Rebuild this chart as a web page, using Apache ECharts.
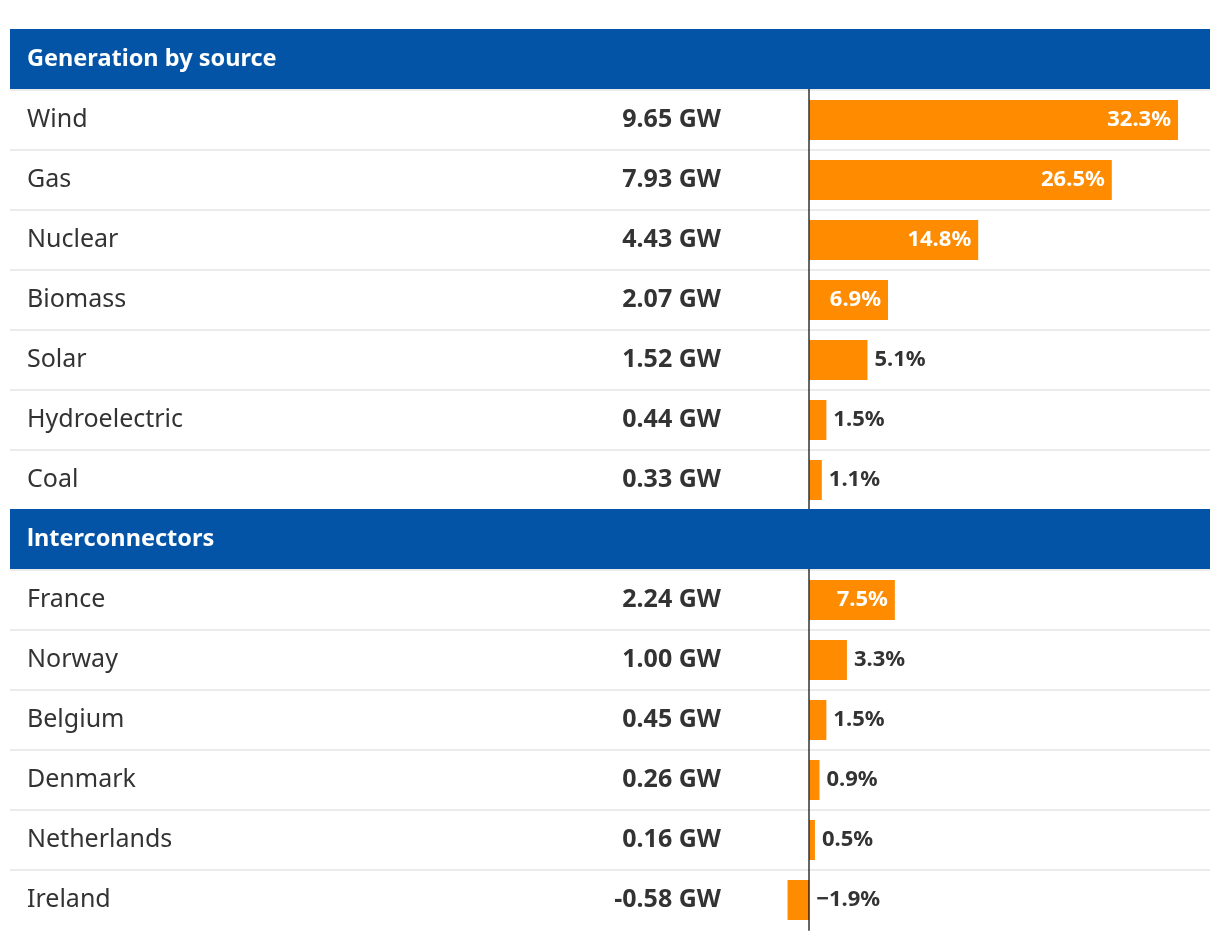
<!DOCTYPE html>
<html>
<head>
<meta charset="utf-8">
<script src="https://cdn.jsdelivr.net/npm/echarts@6/dist/echarts.min.js"></script>
<style>
  html, body { margin: 0; padding: 0; background: #fff; }
  #chart { width: 1220px; height: 938px; }
</style>
</head>
<body>
<div id="chart"></div>
<script>
// Row labels (null value = section header row)
const categories = [
  'Generation by source',
  'Wind', 'Gas', 'Nuclear', 'Biomass', 'Solar', 'Hydroelectric', 'Coal',
  'lnterconnectors',
  'France', 'Norway', 'Belgium', 'Denmark', 'Netherlands', 'Ireland'
];
const headerRows = ['Generation by source', 'lnterconnectors'];
// Output in GW
const gigawatts = [
  null, 9.65, 7.93, 4.43, 2.07, 1.52, 0.44, 0.33,
  null, 2.24, 1.00, 0.45, 0.26, 0.16, -0.58
];
// Share of total (%)
const shares = [
  null, 32.3, 26.5, 14.8, 6.9, 5.1, 1.5, 1.1,
  null, 7.5, 3.3, 1.5, 0.9, 0.5, -1.9
];

const FONT = '"Noto Sans", "Open Sans", sans-serif';
const INSIDE_MIN = 6;

const gwLabels = gigawatts.map(v => v === null ? '' : v.toFixed(2) + ' GW');

const barData = shares.map(v => {
  if (v === null) return '-';
  const inside = v >= INSIDE_MIN;
  return {
    value: v,
    label: {
      position: inside ? 'insideRight' : 'right',
      color: inside ? '#ffffff' : '#333333'
    }
  };
});

const headerData = categories
  .map((c, i) => headerRows.includes(c) ? [0, i] : null)
  .filter(d => d !== null);
const rowData = categories.map((c, i) => [0, i]);

const chart = echarts.init(document.getElementById('chart'), null, { renderer: 'canvas' });

chart.setOption({
  animation: false,
  backgroundColor: '#ffffff',
  grid: { left: 10, right: 10, top: 30, height: 900 },
  xAxis: {
    type: 'value',
    min: -70,
    max: 35.1,
    show: false
  },
  yAxis: [
    {
      type: 'category',
      data: categories,
      inverse: true,
      position: 'left',
      axisLine: { show: false, onZero: false },
      axisTick: { show: false },
      splitLine: { show: false },
      axisLabel: {
        interval: 0,
        margin: -17,
        align: 'left',
        color: '#333333',
        fontFamily: FONT,
        fontSize: 25,
        formatter: v => headerRows.includes(v) ? '' : v
      }
    },
    {
      type: 'category',
      data: gwLabels,
      inverse: true,
      position: 'left',
      axisLine: { show: false, onZero: false },
      axisTick: { show: false },
      splitLine: { show: false },
      axisLabel: {
        interval: 0,
        margin: -711,
        align: 'right',
        color: '#333333',
        fontFamily: FONT,
        fontWeight: 'bold',
        fontSize: 25
      }
    },
    {
      type: 'category',
      data: categories,
      inverse: true,
      z: 3,
      axisLine: { show: true, onZero: true, lineStyle: { color: 'rgba(0,0,0,0.6)', width: 2 } },
      axisTick: { show: false },
      axisLabel: { show: false },
      splitLine: { show: false }
    }
  ],
  series: [
    {
      // row separators
      type: 'custom',
      yAxisIndex: 0,
      data: rowData,
      encode: { x: 0, y: 1 },
      z: 1,
      silent: true,
      renderItem: (params, api) => {
        const idx = api.value(1);
        if (idx >= categories.length - 1) return null;
        const cy = api.coord([0, idx])[1];
        const h = api.size([0, 1])[1];
        const cs = params.coordSys;
        const y = cy + h / 2;
        return {
          type: 'line',
          shape: { x1: cs.x, y1: y, x2: cs.x + cs.width, y2: y },
          style: { stroke: '#ebebeb', lineWidth: 2 }
        };
      }
    },
    {
      type: 'bar',
      yAxisIndex: 0,
      data: barData,
      barWidth: 40,
      itemStyle: { color: '#ff8c00' },
      label: {
        show: true,
        distance: 7,
        fontFamily: FONT,
        fontWeight: 'bold',
        fontSize: 22,
        formatter: p => (p.value < 0 ? '\u2212' : '') + Math.abs(p.value).toFixed(1) + '%'
      },
      z: 2
    },
    {
      type: 'custom',
      yAxisIndex: 0,
      data: headerData,
      encode: { x: 0, y: 1 },
      z: 5,
      renderItem: (params, api) => {
        const idx = api.value(1);
        const cy = api.coord([0, idx])[1];
        const h = api.size([0, 1])[1];
        const cs = params.coordSys;
        return {
          type: 'rect',
          shape: { x: cs.x, y: cy - h / 2 - 1, width: cs.width, height: h },
          style: { fill: '#0354a6' },
          textContent: {
            style: {
              text: categories[idx],
              fill: '#ffffff',
              font: 'bold 23.5px ' + FONT
            }
          },
          textConfig: { position: 'insideLeft', distance: 17 }
        };
      }
    }
  ]
});
</script>
</body>
</html>
